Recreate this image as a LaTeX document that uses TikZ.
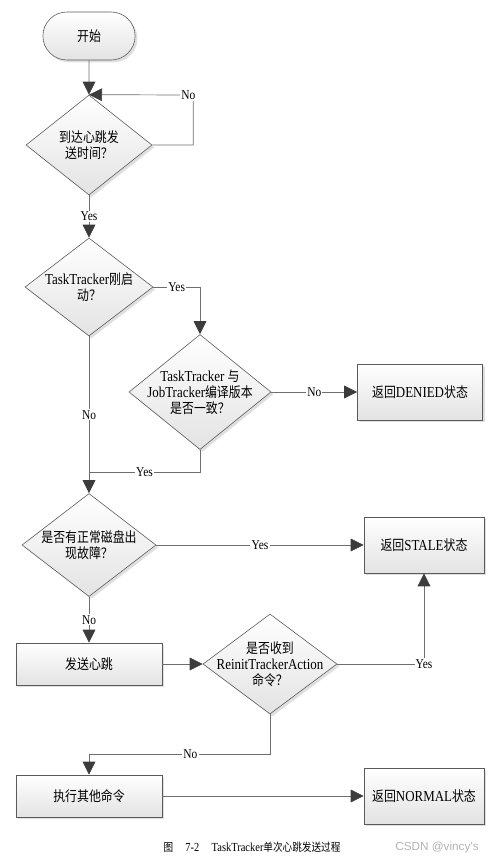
\documentclass[tikz,border=0pt]{standalone}
\usepackage{fontspec}
\setmainfont{Liberation Serif}[FakeStretch=0.85]
\setsansfont{Liberation Sans}
\newfontfamily\cjk[Scale=0.92,FakeStretch=0.85]{Noto Sans CJK SC}
\newcommand\zh[1]{{\cjk #1}}
\usetikzlibrary{arrows.meta,shapes.geometric,shapes.misc,shadows}

\definecolor{linegray}{HTML}{6E6E6E}
\definecolor{tipgray}{HTML}{3C3C3C}
\definecolor{edgegray}{HTML}{5A5A5A}

\tikzset{
  flow/.style={draw=linegray, line width=0.6pt, -{Triangle[length=0.39cm,width=0.38cm,color=tipgray]}},
  link/.style={draw=linegray, line width=0.6pt},
  lbl/.style={fill=white, inner sep=1pt, font=\fontsize{11.5}{12}\selectfont},
  shapebase/.style={draw=edgegray, line width=0.5pt, top color=white, bottom color=gray!22,
    drop shadow={shadow xshift=0.07cm, shadow yshift=-0.07cm, fill=gray!50, opacity=0.5},
    font=\fontsize{13}{13.7}\selectfont},
  term/.style={shapebase, rounded rectangle, minimum width=3cm, minimum height=1.44cm},
  proc/.style={shapebase, rectangle, minimum width=4.38cm, minimum height=1.26cm},
  endbox/.style={shapebase, rectangle, minimum width=3.6cm, minimum height=1.68cm},
  decision/.style={shapebase, diamond, inner sep=0pt},
  dtext/.style={align=center, inner sep=0pt, font=\fontsize{13}{13.7}\selectfont}
}

\begin{document}
\begin{tikzpicture}[x=0.03cm, y=-0.03cm]
  \useasboundingbox (0,0) rectangle (496,864);

  % shapes
  \node[term] (start) at (89,36) {\zh{开始}};
  \node[decision, minimum width=3.78cm, minimum height=3cm] (d1) at (89,145) {};
  \node[decision, minimum width=3.84cm, minimum height=2.94cm] (d2) at (89,287) {};
  \node[decision, minimum width=4.26cm, minimum height=3.45cm] (d3) at (200,392) {};
  \node[endbox, minimum width=3.75cm] (denied) at (420,392) {\zh{返回}DENIED\zh{状态}};
  \node[decision, minimum width=4.02cm, minimum height=3.09cm] (d4) at (89,545) {};
  \node[endbox] (stale) at (424,545) {\zh{返回}STALE\zh{状态}};
  \node[proc] (beat) at (89,664) {\zh{发送心跳}};
  \node[decision, minimum width=4.02cm, minimum height=3cm] (d5) at (270,664) {};
  \node[proc] (exec) at (89,796) {\zh{执行其他命令}};
  \node[endbox] (normal) at (424,796) {\zh{返回}NORMAL\zh{状态}};

  % texts of the decisions
  \begin{scope}[every node/.style={dtext}]
    \node (t1) at (d1) {\zh{到达心跳发}\\\zh{送时间？}};
    \node (t2) at (d2) {TaskTracker\zh{刚启}\\\zh{动？}};
    \node (t3) at (d3) {TaskTracker \zh{与}\\JobTracker\zh{编译版本}\\\zh{是否一致？}};
    \node (t4) at (d4) {\zh{是否有正常磁盘出}\\\zh{现故障？}};
    \node (t5) at (d5) {\zh{是否收到}\\ReinitTrackerAction\\\zh{命令？}};
  \end{scope}

  % connectors
  \draw[flow] (start) -- (d1);
  \draw[flow] (d1.east) -| ++(41,-50) node[lbl, xshift=-0.15cm] {No} -- (d1.north);
  \draw[flow] (d1) -- node[lbl] {Yes} (d2);
  \draw[flow] (d2.east) -| node[lbl, pos=0.25] {Yes} (d3.north);
  \draw[flow] (d3.east) -- node[lbl] {No} (denied.west);
  \draw[flow] (d2) -- node[lbl] {No} (d4);
  \coordinate (merge) at (89,472);
  \draw[link] (d3.south) |- node[lbl, pos=0.75] {Yes} (merge);
  \draw[flow] (d4.east) -- node[lbl] {Yes} (stale.west);
  \draw[flow] (d4) -- node[lbl] {No} (beat);
  \draw[flow] (beat) -- (d5);
  \draw[flow] (d5.east) -| node[lbl] {Yes} (stale.south);
  \draw[flow] (d5.south) -- ++(0,40) -| node[lbl, pos=0.22] {No} (exec.north);
  \draw[flow] (exec) -- (normal);

  % caption
  \node[font=\fontsize{10.5}{12}\selectfont] (caption) at (252,847)
    {\zh{图}\quad 7-2\quad TaskTracker\zh{单次心跳发送过程}};
  \node[font=\sffamily\fontsize{10}{12}\selectfont, text=gray!60] (mark) at (437,847) {CSDN @vincy's};
\end{tikzpicture}
\end{document}
